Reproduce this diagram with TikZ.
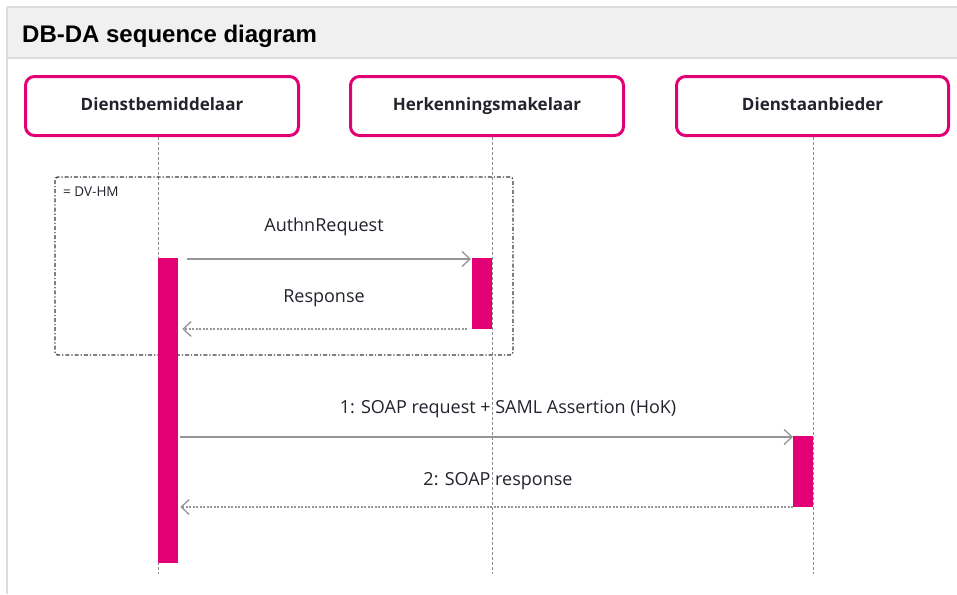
\documentclass[tikz,border=0pt]{standalone}
\usepackage{fontspec}
\setmainfont{Open Sans}
\newfontfamily\titlefont{Liberation Sans}
\usetikzlibrary{arrows.meta}
\definecolor{mag}{RGB}{226,0,116}
\definecolor{hdrbg}{RGB}{240,240,240}
\definecolor{hdrline}{RGB}{221,221,221}
\definecolor{msggray}{RGB}{150,150,150}
\definecolor{lifegray}{RGB}{140,140,140}
\definecolor{framegray}{RGB}{60,60,60}
\definecolor{txt}{RGB}{35,35,45}
\begin{document}
\begin{tikzpicture}[x=1pt,y=-1pt,
  actor/.style={draw=mag, line width=3pt, rounded corners=9pt, fill=white,
    minimum width=273pt, minimum height=59pt, inner sep=0pt,
    font=\bfseries\fontsize{17}{20}\selectfont, text=txt},
  actbar/.style={fill=mag, draw=none, inner sep=0pt, minimum width=20pt},
  lifeline/.style={draw=lifegray, line width=0.8pt, dash pattern=on 3pt off 2pt},
  callmsg/.style={draw=msggray, line width=1.5pt, -{Straight Barb[length=8pt,width=15pt,line width=1.3pt]}},
  retmsg/.style={draw=msggray, line width=1.3pt, dash pattern=on 2pt off 1.5pt, -{Straight Barb[length=8pt,width=15pt,line width=1.3pt,sep]}},
  msglabel/.style={font=\fontsize{18}{21}\selectfont, text=txt, inner sep=0pt},
  framebox/.style={draw=framegray, line width=1.4pt, dash pattern=on 4pt off 2pt on 1.2pt off 2pt, rounded corners=3pt}
]
\useasboundingbox (0,0) rectangle (957,594);
\fill[white] (0,0) rectangle (957,594);
% header
\fill[hdrbg] (7,7) rectangle (957,58);
\draw[hdrline, line width=1.5pt] (7,7) -- (957,7);
\draw[hdrline, line width=1.5pt] (7,58) -- (957,58);
\draw[hdrline, line width=1.5pt] (7,7) -- (7,594);
\node[anchor=base west, inner sep=0pt, font=\titlefont\bfseries\fontsize{24}{28}\selectfont] (title) at (22,42) {DB-DA sequence diagram};

% lifelines
\coordinate (l1t) at (158,137); \coordinate (l1b) at (158,574);
\coordinate (l2t) at (492,137); \coordinate (l2b) at (492,574);
\coordinate (l3t) at (813,137); \coordinate (l3b) at (813,574);
\draw[lifeline] (l1t) -- (l1b);
\draw[lifeline] (l2t) -- (l2b);
\draw[lifeline] (l3t) -- (l3b);

% actors
\node[actor] (db) at (162,106) {\raisebox{3pt}{Dienstbemiddelaar}};
\node[actor] (hm) at (487,106) {\raisebox{3pt}{Herkenningsmakelaar}};
\node[actor, minimum width=272pt] (da) at (812.5,106) {\raisebox{3pt}{Dienstaanbieder}};

% frame
\draw[framebox] (55,177) rectangle (513,355);
\node[anchor=west, inner sep=0pt, font=\fontsize{13.5}{16}\selectfont, text=txt] (frl) at (63,192) {= DV-HM};

% activation bars
\node[actbar, minimum height=305pt] (b1) at (167.5,410.5) {};
\node[actbar, minimum height=71pt] (b2) at (482,293.5) {};
\node[actbar, minimum height=71pt] (b3) at (803,471.5) {};

% messages
\coordinate (m1s) at (187,259); \coordinate (m1e) at (471,259);
\coordinate (m2s) at (467,329); \coordinate (m2e) at (181,329);
\coordinate (m3s) at (180,437); \coordinate (m3e) at (793,437);
\coordinate (m4s) at (793,507); \coordinate (m4e) at (179,507);
\draw[callmsg] (m1s) -- (m1e);
\draw[retmsg] (m2s) -- (m2e);
\draw[callmsg] (m3s) -- (m3e);
\draw[retmsg] (m4s) -- (m4e);

\node[msglabel] (t1) at (324,227) {AuthnRequest};
\node[msglabel] (t2) at (324,298) {Response};
\node[msglabel] (t3) at (508,409) {1: SOAP request + SAML Assertion (HoK)};
\node[msglabel] (t4) at (498,481) {2: SOAP response};
\end{tikzpicture}
\end{document}
